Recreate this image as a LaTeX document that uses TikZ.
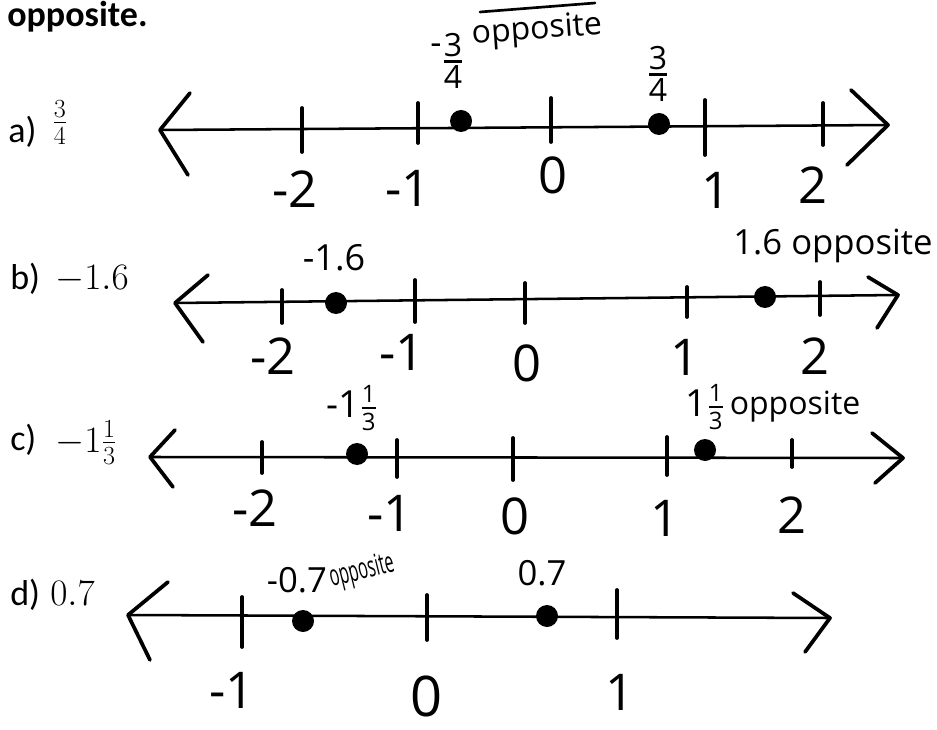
\RequirePackage{fix-cm}
\documentclass[tikz,border=0pt]{standalone}
\usepackage[no-math]{fontspec}
\usepackage{graphicx}
\setmainfont{Carlito}
\newfontfamily\hw{Open Sans}
% stacked fraction in the handwriting font: size, numerator, denominator
\newcommand\hwfrac[3]{$\hbox{\fontsize{#1}{#1}\selectfont #2}\above 1.4pt\hbox{\fontsize{#1}{#1}\selectfont #3}$}
\tikzset{
  axisline/.style={line width=1.9pt, line cap=round},
  arrowarm/.style={line width=2.8pt, line cap=round, line join=round},
  tickmark/.style={line width=2.8pt, line cap=round},
  dotpt/.style={circle, fill=black, draw=none, inner sep=0pt, minimum size=16.5pt},
  digit/.style={font=\hw\fontsize{38}{38}\selectfont, inner sep=0pt},
  hwlab/.style={font=\hw\fontsize{#1}{#1}\selectfont, inner sep=0pt},
  part/.style={font=\fontsize{27}{27}\selectfont, inner sep=0pt, anchor=base west},
  val/.style={font=\fontsize{28}{28}\selectfont, inner sep=0pt, anchor=base west},
}
\begin{document}
\begin{tikzpicture}[x=0.75pt, y=-0.75pt]
\useasboundingbox (0,0) rectangle (937,730);

% heading
\node[font=\bfseries\fontsize{27}{27}\selectfont, inner sep=0pt, anchor=base west] (title) at (7,27) {opposite.};

% item labels
\node[part] (pa) at (8,143) {a)};
\node[val] (va) at (52,132) {$\frac{3}{4}$};
\node[part] (pb) at (10,290) {b)};
\node[val] (vb) at (55,290) {$-1.6$};
\node[part] (pc) at (10,450) {c)};
\node[val] (vc) at (55,452) {$-1\frac{1}{3}$};
\node[part] (pd) at (10,605) {d)};
\node[val] (vd) at (50,605) {$0.7$};

% ---------- line a ----------
\coordinate (aL) at (160,130); \coordinate (aR) at (888,125);
\coordinate (aL1) at (190,93); \coordinate (aL2) at (188,175);
\coordinate (aR1) at (851,90); \coordinate (aR2) at (847,165);
\draw[axisline] (aL) -- (aR);
\draw[arrowarm] (aL1) -- (aL) -- (aL2);
\draw[arrowarm] (aR1) -- (aR) -- (aR2);
\foreach \x/\t/\b in {302/108/152, 418/103/143, 551/98/142, 705/100/155, 823/103/145}
  \draw[tickmark] (\x,\t) -- (\x,\b);
\node[dotpt] (ad1) at (461,121) {};
\node[dotpt] (ad2) at (659,124) {};
\node[digit] (an2) at (295,189) {-2};
\node[digit] (an1) at (408,188) {-1};
\node[digit] (a0) at (553,175) {0};
\node[digit] (a1) at (716,190) {1};
\node[digit] (a2) at (813,185) {2};
\node[hwlab=26] (amin) at (436,49) {-};
\node[hwlab=24] (afl) at (453,61) {$\hbox{3}\above 1.8pt\hbox{4}$};
\node[hwlab=24, rotate=4] (aopp) at (537,31) {opposite};
\coordinate (aov1) at (480,12); \coordinate (aov2) at (595,3);
\draw[line width=2pt, line cap=round] (aov1) -- (aov2);
\node[hwlab=24] (afr) at (658,74) {$\hbox{3}\above 1.8pt\hbox{4}$};

% ---------- line b ----------
\coordinate (bL) at (175,303); \coordinate (bR) at (898,295);
\coordinate (bL1) at (208,275); \coordinate (bL2) at (203,342);
\coordinate (bR1) at (868,277); \coordinate (bR2) at (877,328);
\draw[axisline] (bL) -- (bR);
\draw[arrowarm] (bL1) -- (bL) -- (bL2);
\draw[arrowarm] (bR1) -- (bR) -- (bR2);
\foreach \x/\t/\b in {282/290/323, 415/280/322, 525/283/323, 687/287/317, 820/282/315}
  \draw[tickmark] (\x,\t) -- (\x,\b);
\node[dotpt] (bd1) at (336,303) {};
\node[dotpt] (bd2) at (765,297) {};
\node[digit] (bn2) at (273,356) {-2};
\node[digit] (bn1) at (402,352) {-1};
\node[digit] (b0) at (527,363) {0};
\node[digit] (b1) at (685,357) {1};
\node[digit] (b2) at (815,356) {2};
\node[hwlab=27] (blab) at (334,258) {-1.6};
\node[hwlab=26] (bopp) at (833,246) {1.6 opposite};

% ---------- line c ----------
\coordinate (cL) at (150,457); \coordinate (cR) at (903,458);
\coordinate (cL1) at (175,430); \coordinate (cL2) at (173,487);
\coordinate (cR1) at (872,433); \coordinate (cR2) at (875,483);
\draw[axisline] (cL) -- (cR);
\draw[arrowarm] (cL1) -- (cL) -- (cL2);
\draw[arrowarm] (cR1) -- (cR) -- (cR2);
\foreach \x/\t/\b in {262/442/473, 397/440/477, 513/438/480, 667/437/475, 792/440/467}
  \draw[tickmark] (\x,\t) -- (\x,\b);
\node[dotpt] (cd1) at (357,454) {};
\node[dotpt] (cd2) at (705,450) {};
\node[digit] (cn2) at (255,508) {-2};
\node[digit] (cn1) at (390,513) {-1};
\node[digit] (c0) at (515,516) {0};
\node[digit] (c1) at (665,518) {1};
\node[digit] (c2) at (792,515) {2};
\node[hwlab=28] (clab) at (352,408) {-1\hwfrac{18}{1}{3}};
\node[hwlab=28] (cmix) at (705,407) {1\hwfrac{18}{1}{3}};
\node[hwlab=24] (copp) at (795,407) {opposite};

% ---------- line d ----------
\coordinate (dL) at (128,615); \coordinate (dR) at (830,618);
\coordinate (dL1) at (168,582); \coordinate (dL2) at (150,660);
\coordinate (dR1) at (793,593); \coordinate (dR2) at (805,652);
\draw[axisline] (dL) -- (dR);
\draw[arrowarm] (dL1) -- (dL) -- (dL2);
\draw[arrowarm] (dR1) -- (dR) -- (dR2);
\foreach \x/\t/\b in {242/597/647, 427/595/640, 617/590/638}
  \draw[tickmark] (\x,\t) -- (\x,\b);
\node[dotpt] (dd1) at (303,621) {};
\node[dotpt] (dd2) at (547,616) {};
\node[digit] (dn1) at (232,690) {-1};
\node[digit, font=\hw\fontsize{42}{42}\selectfont] (d0) at (427,696) {0};
\node[digit] (d1) at (620,692) {1};
\node[hwlab=26] (dlab) at (297,580) {-0.7};
\node[hwlab=22, rotate=14] (dopp) at (362,572) {\scalebox{0.55}[1]{opposite}};
\node[hwlab=26] (dval) at (542,573) {0.7};
\end{tikzpicture}
\end{document}
